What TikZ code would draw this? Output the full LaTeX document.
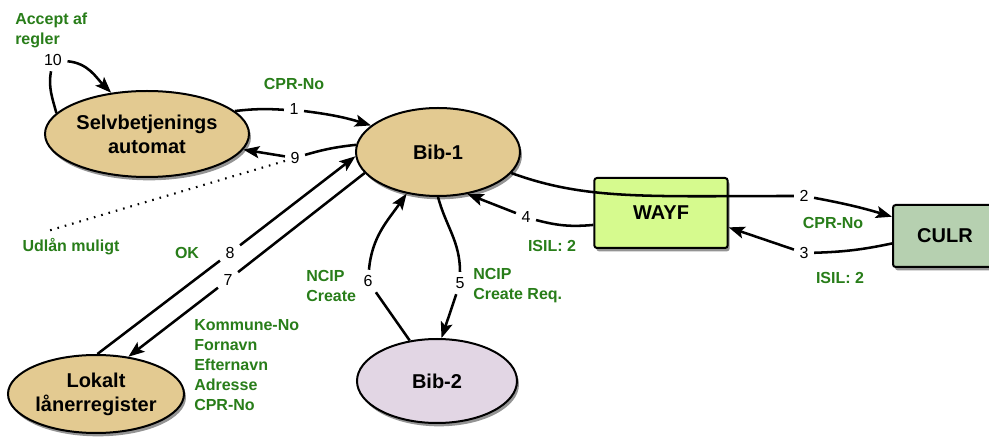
\documentclass[tikz,border=0pt]{standalone}
\usepackage{fontspec}
\setmainfont{Liberation Sans}
\usetikzlibrary{shapes.geometric,shadows,arrows.meta}
\definecolor{tanfill}{RGB}{227,202,145}
\definecolor{lilac}{RGB}{226,214,228}
\definecolor{wayfgreen}{RGB}{214,250,142}
\definecolor{culrgreen}{RGB}{182,208,176}
\definecolor{lblgreen}{RGB}{40,125,25}
\begin{document}
\begin{tikzpicture}[x=0.75pt,y=-0.75pt,
  ell/.style={ellipse,draw,line width=1.5pt,inner sep=0pt,align=center,
    font=\fontsize{15}{18}\selectfont\bfseries,
    drop shadow={shadow xshift=1.5pt,shadow yshift=-2.5pt,fill=black!70,opacity=0.6}},
  box/.style={rectangle,rounded corners=2pt,draw,line width=1.5pt,
    font=\fontsize{15}{18}\selectfont\bfseries,
    drop shadow={shadow xshift=1.5pt,shadow yshift=-2.5pt,fill=black!70,opacity=0.6}},
  num/.style={inner sep=4pt,font=\fontsize{12}{14}\selectfont},
  lbl/.style={text=lblgreen,inner sep=0pt,align=left,font=\fontsize{12}{15}\selectfont\bfseries},
  con/.style={line width=1.9pt},
  arr/.style={con,-{Stealth[length=12pt,width=9pt,inset=2.5pt]}}]
\useasboundingbox (0,0) rectangle (989,441);

\node[ell,fill=tanfill,minimum width=153pt,minimum height=64.5pt] (selv) at (147,134) {Selvbetjenings\\automat};
\node[ell,fill=tanfill,minimum width=123pt,minimum height=66pt] (bib1) at (438,152) {Bib-1};
\node[ell,fill=tanfill,minimum width=132pt,minimum height=58.5pt] (lok) at (96,394) {Lokalt\\lånerregister};
\node[ell,fill=lilac,minimum width=120pt,minimum height=63pt] (bib2) at (437,381) {Bib-2};
\node[box,fill=wayfgreen,minimum width=100pt,minimum height=52.5pt] (wayf) at (661,213) {WAYF};
\node[box,fill=culrgreen,minimum width=78pt,minimum height=46.5pt] (culr) at (945,236) {CULR};

\node[num] (n1) at (294,109) {1};
\node[num] (n2) at (804,196) {2};
\node[num] (n3) at (804,253) {3};
\node[num] (n4) at (526,217) {4};
\node[num] (n5) at (460,283) {5};
\node[num] (n6) at (368,281) {6};
\node[num] (n7) at (228,280) {7};
\node[num] (n8) at (230,253) {8};
\node[num] (n9) at (295,158) {9};
\node[num] (n10) at (53,60) {10};

\node[lbl,anchor=north west] (accept) at (15,13) {Accept af\\regler};
\node[lbl] (cprA) at (294,84) {CPR-No};
\node[lbl] (udlan) at (71,247) {Udlån muligt};
\node[lbl] (ok) at (187,253) {OK};
\node[lbl,anchor=north west] (borger) at (194,319) {Kommune-No\\Fornavn\\Efternavn\\Adresse\\CPR-No};
\node[lbl,anchor=north west] (ncipA) at (306,270) {NCIP\\Create};
\node[lbl,anchor=north west] (ncipB) at (473,268) {NCIP\\Create Req.};
\node[lbl] (isilA) at (552,246) {ISIL: 2};
\node[lbl] (cprB) at (833,223) {CPR-No};
\node[lbl] (isilB) at (840,278) {ISIL: 2};

\draw[con] (selv) to[bend left=5] (n1);
\draw[arr] (n1) to[bend left=5] (bib1);
\draw[con] (bib1.175) to[bend right=5] (n9);
\draw[arr] (n9) -- (selv);
\draw[con] (selv.167) to[out=105,in=-100] (n10);
\draw[arr] (n10) to[out=-5,in=135] (selv.131);
\draw[line width=1.6pt,dash pattern=on 1.2pt off 4.5pt,shorten >=18pt] (n9) -- (udlan.north west);
\draw[con] (lok.88) -- (n8);
\draw[arr] (n8) -- (bib1.183);
\draw[con] (bib1.196) -- (n7);
\draw[arr] (n7) -- (lok.49);
\draw[con] (bib2.124) -- (n6);
\draw[arr] (n6) to[out=85,in=235] (bib1.233);
\draw[con] (bib1.south) to[out=-75,in=90] (n5);
\draw[arr] (n5) -- (bib2.84);
\draw[con] (wayf.190) to[bend left=10] (n4);
\draw[arr] (n4) -- (bib1.305);
\draw[con] (bib1.344) to[out=-20,in=180,out distance=60pt,in distance=110pt] (n2);
\draw[arr] (n2) to[bend left=3] (culr.160);
\draw[con] (culr.188) to[bend left=5] (n3);
\draw[arr] (n3) -- (wayf.348);
\end{tikzpicture}
\end{document}
